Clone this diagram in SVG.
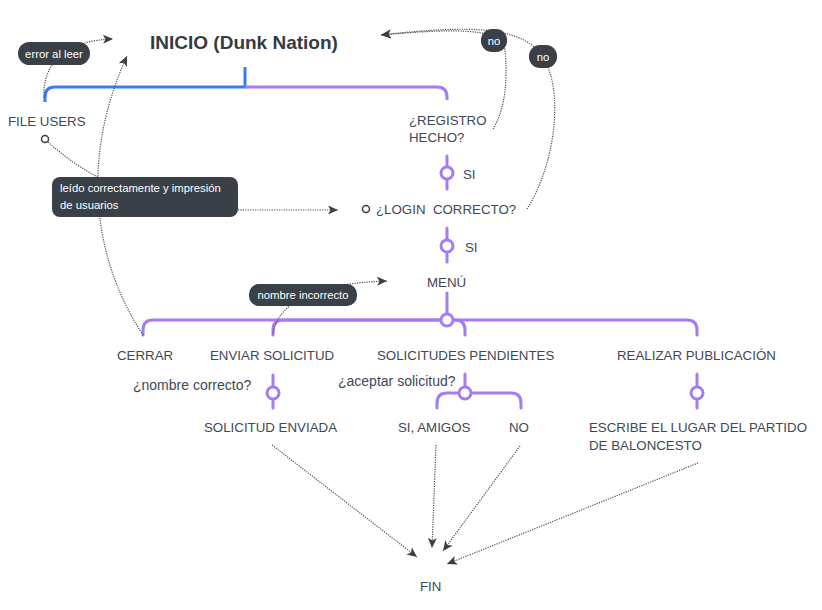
<svg xmlns="http://www.w3.org/2000/svg" width="822" height="610" viewBox="0 0 822 610">
<style>
.t{font-family:"Liberation Sans",Arial,sans-serif;font-size:13.3px;fill:#3e4856}
.q{font-family:"Liberation Sans",Arial,sans-serif;font-size:14px;fill:#3e4856}
.title{font-family:"Liberation Sans",Arial,sans-serif;font-size:19px;font-weight:bold;fill:#343b44}
.bt{font-family:"Liberation Sans",Arial,sans-serif;font-size:11.3px;fill:#ffffff}
.bub{fill:#3a4047}
.pur{fill:none;stroke:#a67cf2;stroke-width:3;stroke-linecap:round}
.blu{fill:none;stroke:#3b7cf6;stroke-width:3}
.pc{fill:#ffffff;stroke:#a67cf2;stroke-width:3}
.dot{fill:none;stroke:#4a4f55;stroke-width:1.2;stroke-dasharray:1.2 1.2}
.sc{fill:#ffffff;stroke:#3b4046;stroke-width:1.5}
</style>
<defs>
<marker id="ah" markerUnits="userSpaceOnUse" markerWidth="12" markerHeight="10" refX="10" refY="4.5" orient="auto">
<path d="M0,0 L10,4.5 L0,9 L2.5,4.5 z" fill="#3b4046"/>
</marker>
</defs>

<!-- tree lines -->
<g id="tree">
<path class="blu" d="M245,67 V87 H55 Q45,87 45,97 V102"/>
<path class="pur" d="M245,87 H437 Q447,87 447,97 V100" style="stroke-linecap:butt"/>
<path class="pur" d="M447,156 V189"/>
<circle class="pc" cx="447" cy="173" r="6"/>
<path class="pur" d="M447,228 V262"/>
<circle class="pc" cx="447" cy="246" r="6"/>
<path class="pur" d="M447,293 V320"/>
<path class="pur" d="M447,320 H153 Q143,320 143,330 V335"/>
<path class="pur" d="M447,320 H283 Q273,320 273,330 V335"/>
<path class="pur" d="M447,320 H455 Q465,320 465,330 V335"/>
<path class="pur" d="M447,320 H687 Q697,320 697,330 V335"/>
<circle class="pc" cx="447" cy="320" r="6"/>
<path class="pur" d="M273,375 V408"/>
<circle class="pc" cx="273" cy="393" r="6"/>
<path class="pur" d="M465,374 V393"/>
<path class="pur" d="M437,408 V403 Q437,393 447,393 H511 Q521,393 521,403 V408"/>
<circle class="pc" cx="465" cy="393" r="6"/>
<path class="pur" d="M697,374 V408"/>
<circle class="pc" cx="697" cy="393" r="6"/>
</g>

<!-- connectors -->
<g id="connectors">
<path class="dot" d="M44,98 C42,60 70,40 113,39" marker-end="url(#ah)"/>
<path class="dot" d="M143,335 C100,270 75,170 127,56" marker-end="url(#ah)"/>
<path class="dot" d="M48,142 C90,180 150,210 250,210 L338,210" marker-end="url(#ah)"/>
<path class="dot" d="M273,334 C278,300 320,283 387,281" marker-end="url(#ah)"/>
<path class="dot" d="M493,129 C505,110 508,80 505,50 C500,30 470,27 381,35" marker-end="url(#ah)"/>
<path class="dot" d="M527,209 C552,170 565,100 545,60 C525,25 470,25 381,35" marker-end="url(#ah)"/>
<path class="dot" d="M272,445 L417,557" marker-end="url(#ah)"/>
<path class="dot" d="M436,445 L432,548" marker-end="url(#ah)"/>
<path class="dot" d="M520,446 L443,551" marker-end="url(#ah)"/>
<path class="dot" d="M698,463 L447,564" marker-end="url(#ah)"/>
</g>

<!-- connector labels -->
<g id="lbl-error"><rect class="bub" x="18" y="42" width="72" height="23" rx="11.5"/><text class="bt" x="54" y="57.5" text-anchor="middle">error al leer</text></g>
<g id="lbl-leido"><rect class="bub" x="52" y="177" width="186" height="40" rx="8"/><text class="bt" x="60" y="192">leído correctamente y impresión</text><text class="bt" x="60" y="209">de usuarios</text></g>
<g id="lbl-nombre"><rect class="bub" x="249" y="284" width="108" height="22" rx="10"/><text class="bt" x="303" y="299" text-anchor="middle">nombre incorrecto</text></g>
<g id="lbl-no1"><rect class="bub" x="481" y="29" width="26" height="23" rx="11"/><text class="bt" x="494" y="44.5" text-anchor="middle">no</text></g>
<g id="lbl-no2"><rect class="bub" x="529" y="45" width="28" height="23" rx="11"/><text class="bt" x="543" y="60.5" text-anchor="middle">no</text></g>

<!-- nodes -->
<g id="n-inicio"><text class="title" x="150" y="48.5">INICIO (Dunk Nation)</text></g>
<g id="n-file"><text class="t" x="8" y="125.5">FILE USERS</text><circle class="sc" cx="45" cy="139" r="3.5"/></g>
<g id="n-registro"><text class="t" x="409" y="125">¿REGISTRO</text><text class="t" x="409" y="142">HECHO?</text></g>
<g id="l-si1"><text class="t" x="463" y="178.5">SI</text></g>
<g id="n-login"><circle class="sc" cx="366" cy="209" r="3.5"/><text class="t" x="376" y="214">¿LOGIN&#160; CORRECTO?</text></g>
<g id="l-si2"><text class="t" x="465" y="251.5">SI</text></g>
<g id="n-menu"><text class="t" x="427" y="286.5">MENÚ</text></g>
<g id="n-cerrar"><text class="t" x="117" y="359.5">CERRAR</text></g>
<g id="n-enviar"><text class="t" x="210" y="359.5">ENVIAR SOLICITUD</text></g>
<g id="n-pend"><text class="t" x="377" y="359.5">SOLICITUDES PENDIENTES</text></g>
<g id="n-publ"><text class="t" x="617" y="359.5">REALIZAR PUBLICACIÓN</text></g>
<g id="l-nombre"><text class="q" x="133" y="390">¿nombre correcto?</text></g>
<g id="l-aceptar"><text class="q" x="338" y="386">¿aceptar solicitud?</text></g>
<g id="n-enviada"><text class="t" x="204" y="431.5">SOLICITUD ENVIADA</text></g>
<g id="n-si"><text class="t" x="398" y="431.5">SI, AMIGOS</text></g>
<g id="n-no"><text class="t" x="509" y="431.5">NO</text></g>
<g id="n-escribe"><text class="t" x="589" y="431.5">ESCRIBE EL LUGAR DEL PARTIDO</text><text class="t" x="589" y="450">DE BALONCESTO</text></g>
<g id="n-fin"><text class="t" x="420" y="591">FIN</text></g>
</svg>
